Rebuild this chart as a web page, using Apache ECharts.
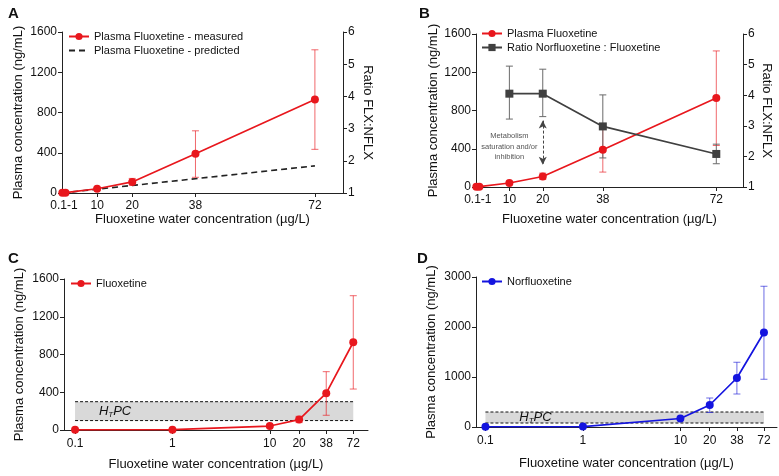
<!DOCTYPE html>
<html>
<head>
<meta charset="utf-8">
<script src="https://cdn.jsdelivr.net/npm/echarts@6/dist/echarts.min.js"></script>
<style>html,body{margin:0;padding:0;background:#fff}#c{width:779px;height:476px}</style>
</head>
<body>
<div id="c"></div>
<script>
// ---- data ----
const xConc = [0.1, 1, 10, 20, 38, 72];
const flxMeasured = [2, 3, 42, 110, 390, 930];
const flxLow = [null, null, 35, 78, 156, 434];
const flxHigh = [null, null, 50, 145, 618, 1423];
const flxPredicted = [0, 4, 38, 75, 142, 270];
const ratioX = [10, 20, 38, 72];
const ratioMean = [4.05, 4.05, 2.98, 2.08];
const ratioLow = [3.22, 3.3, 1.95, 1.76];
const ratioHigh = [4.95, 4.85, 4.01, 2.4];
const nflxMeasured = [5, 8, 170, 440, 980, 1890];
const nflxLow = [null, null, null, 290, 660, 955];
const nflxHigh = [null, null, null, 580, 1295, 2815];
const htpcFlx = [100, 300];
const htpcNflx = [80, 300];
const linTickValues = [10, 20, 38, 72];
const linLabelValues = [0.55, 10, 20, 38, 72];
const linLabelText = ['0.1-1', '10', '20', '38', '72'];
const logTickValues = [0.1, 1, 10, 20, 38, 72];
const yTicksFlx = [0, 400, 800, 1200, 1600];
const yTicksRatio = [1, 2, 3, 4, 5, 6];
const yTicksNflx = [0, 1000, 2000, 3000];
const arrowRatio = [3.17, 1.73];

// ---- helpers ----
const zip = (xs, ys) => xs.map((x, i) => [x, ys[i]]);
const errData = (xs, lo, hi) => xs.map((x, i) => [x, lo[i], hi[i]]).filter(d => d[1] != null);

const RED = '#e8171d', RED_ERR = 'rgba(232,23,29,0.65)';
const GRAY = '#404040', GRAY_ERR = '#6a6a6a';
const BLUE = '#1414df', BLUE_ERR = 'rgba(30,30,215,0.65)';
const FONT = '"Liberation Sans", Arial, sans-serif';
const AX = '#222';

function errSeries(xi, yi, data, color) {
  return {
    type: 'custom', xAxisIndex: xi, yAxisIndex: yi, data: data, z: 2,
    encode: { x: 0, y: [1, 2] },
    renderItem: function (params, api) {
      const x = api.value(0);
      const p1 = api.coord([x, api.value(1)]);
      const p2 = api.coord([x, api.value(2)]);
      const w = 3.5;
      const st = { stroke: color, lineWidth: 1 };
      return { type: 'group', children: [
        { type: 'line', shape: { x1: p1[0], y1: p1[1], x2: p2[0], y2: p2[1] }, style: st },
        { type: 'line', shape: { x1: p1[0] - w, y1: p1[1], x2: p1[0] + w, y2: p1[1] }, style: st },
        { type: 'line', shape: { x1: p2[0] - w, y1: p2[1], x2: p2[0] + w, y2: p2[1] }, style: st }
      ] };
    }
  };
}

function bandSeries(xi, yi, range, labelOffset) {
  return {
    type: 'custom', xAxisIndex: xi, yAxisIndex: yi, z: 0, silent: true,
    data: [[xConc[0], xConc[xConc.length - 1], range[0], range[1]]],
    encode: { x: [0, 1], y: [2, 3] },
    renderItem: function (params, api) {
      const a = api.coord([api.value(0), api.value(3)]);
      const b = api.coord([api.value(1), api.value(2)]);
      const ds = { stroke: '#111', lineWidth: 1, lineDash: [3, 2] };
      return { type: 'group', children: [
        { type: 'rect', shape: { x: a[0], y: a[1], width: b[0] - a[0], height: b[1] - a[1] }, style: { fill: '#d9d9d9' } },
        { type: 'line', shape: { x1: a[0], y1: a[1], x2: b[0], y2: a[1] }, style: ds },
        { type: 'line', shape: { x1: a[0], y1: b[1], x2: b[0], y2: b[1] }, style: ds },
        { type: 'text', x: a[0] + labelOffset, y: (a[1] + b[1]) / 2,
          style: { text: '{i|H}{s|T}{i|PC}', align: 'center', verticalAlign: 'middle', fill: '#111',
            rich: { i: { fontStyle: 'italic', fontSize: 13, fontFamily: FONT },
                    s: { fontStyle: 'italic', fontSize: 8, fontFamily: FONT, padding: [7, 0, 0, 0] } } } }
      ] };
    }
  };
}

function xLin(gi, gap) {
  return {
    gridIndex: gi, type: 'value', min: 0, max: 80,
    name: 'Fluoxetine water concentration (µg/L)', nameLocation: 'middle', nameGap: gap,
    nameTextStyle: { fontSize: 13, fontFamily: FONT, color: '#111' },
    axisLine: { lineStyle: { color: AX, width: 1 } },
    axisTick: { customValues: linTickValues, length: 4, lineStyle: { color: AX } },
    axisLabel: { customValues: linLabelValues, fontSize: 12, fontFamily: FONT, color: '#111', margin: 7,
      formatter: v => linLabelText[linLabelValues.indexOf(v)] },
    splitLine: { show: false }
  };
}
function xLog(gi, min, max, gap) {
  return {
    gridIndex: gi, type: 'log', logBase: 10, min: min, max: max,
    name: 'Fluoxetine water concentration (µg/L)', nameLocation: 'middle', nameGap: gap,
    nameTextStyle: { fontSize: 13, fontFamily: FONT, color: '#111' },
    axisLine: { lineStyle: { color: AX, width: 1 } },
    axisTick: { customValues: logTickValues, length: 4, lineStyle: { color: AX } },
    axisLabel: { customValues: logTickValues, fontSize: 12, fontFamily: FONT, color: '#111', margin: 8,
      formatter: v => String(v) },
    splitLine: { show: false }, minorTick: { show: false }, minorSplitLine: { show: false }
  };
}
function yAx(gi, ticks, pos, name, gap, rot) {
  return {
    gridIndex: gi, type: 'value', position: pos, min: ticks[0], max: ticks[ticks.length - 1],
    interval: ticks[1] - ticks[0],
    name: name, nameLocation: 'middle', nameGap: gap, nameRotate: rot,
    nameTextStyle: { fontSize: 13, fontFamily: FONT, color: '#111' },
    axisLine: { show: true, lineStyle: { color: AX, width: 1 } },
    axisTick: { show: true, length: 4, lineStyle: { color: AX } },
    axisLabel: { fontSize: 12, fontFamily: FONT, color: '#111', margin: 5, formatter: v => String(v) },
    splitLine: { show: false }
  };
}
function legend(left, top, names) {
  return {
    left: left, top: top, orient: 'vertical', itemWidth: 20, itemHeight: 9, itemGap: 3, padding: 0,
    textStyle: { fontSize: 11, fontFamily: FONT, color: '#111' },
    data: names
  };
}
function lineS(name, xi, yi, data, color, symbol, extra) {
  return Object.assign({
    name: name, type: 'line', xAxisIndex: xi, yAxisIndex: yi, data: data, z: 3,
    symbol: symbol, symbolSize: 8, showSymbol: true,
    lineStyle: { color: color, width: 1.7 }, itemStyle: { color: color }
  }, extra || {});
}

const option = {
  animation: false,
  backgroundColor: '#fff',
  textStyle: { fontFamily: FONT },
  title: [
    { text: 'A', left: 3, top: 1, textStyle: { fontSize: 15, fontWeight: 'bold', fontFamily: FONT, color: '#111' } },
    { text: 'B', left: 414, top: 1, textStyle: { fontSize: 15, fontWeight: 'bold', fontFamily: FONT, color: '#111' } },
    { text: 'C', left: 3, top: 246, textStyle: { fontSize: 15, fontWeight: 'bold', fontFamily: FONT, color: '#111' } },
    { text: 'D', left: 412, top: 246, textStyle: { fontSize: 15, fontWeight: 'bold', fontFamily: FONT, color: '#111' } }
  ],
  grid: [
    { left: 62, top: 32, width: 281, height: 161 },
    { left: 476, top: 34, width: 267, height: 153 },
    { left: 64, top: 279, width: 304, height: 151 },
    { left: 476, top: 277, width: 301, height: 150 }
  ],
  legend: [
    legend(68, 31, ['Plasma Fluoxetine - measured', { name: 'Plasma Fluoxetine - predicted', itemStyle: { opacity: 0 } }]),
    legend(481, 28, ['Plasma Fluoxetine', 'Ratio Norfluoxetine : Fluoxetine']),
    legend(70, 278, ['Fluoxetine']),
    legend(481, 276, ['Norfluoxetine'])
  ],
  xAxis: [
    xLin(0, 19),
    xLin(1, 26),
    xLog(2, 0.077, 102, 28),
    xLog(3, 0.08, 98, 30)
  ],
  yAxis: [
    yAx(0, yTicksFlx, 'left', 'Plasma concentration (ng/mL)', 37, 90),
    yAx(0, yTicksRatio, 'right', 'Ratio FLX:NFLX', 18, -90),
    yAx(1, yTicksFlx, 'left', 'Plasma concentration (ng/mL)', 36, 90),
    yAx(1, yTicksRatio, 'right', 'Ratio FLX:NFLX', 17, -90),
    yAx(2, yTicksFlx, 'left', 'Plasma concentration (ng/mL)', 38, 90),
    yAx(3, yTicksNflx, 'left', 'Plasma concentration (ng/mL)', 38, 90)
  ],
  series: [
    // A
    errSeries(0, 0, errData(xConc, flxLow, flxHigh), RED_ERR),
    lineS('Plasma Fluoxetine - predicted', 0, 0, zip(xConc, flxPredicted), '#222', 'none',
      { showSymbol: false, lineStyle: { color: '#222', width: 1.6, type: [6, 4] }, z: 2 }),
    lineS('Plasma Fluoxetine - measured', 0, 0, zip(xConc, flxMeasured), RED, 'circle'),
    // B
    errSeries(1, 2, errData(xConc, flxLow, flxHigh), RED_ERR),
    errSeries(1, 3, errData(ratioX, ratioLow, ratioHigh), GRAY_ERR),
    lineS('Plasma Fluoxetine', 1, 2, zip(xConc, flxMeasured), RED, 'circle'),
    lineS('Ratio Norfluoxetine : Fluoxetine', 1, 3, zip(ratioX, ratioMean), GRAY, 'rect', {
      markLine: {
        silent: true, symbol: ['arrow', 'arrow'], symbolSize: [6, 8],
        lineStyle: { color: '#444', width: 1, type: [3, 2] }, label: { show: false },
        data: [[{ coord: [ratioX[1], arrowRatio[0]] }, { coord: [ratioX[1], arrowRatio[1]] }]]
      },
      markPoint: {
        silent: true, symbol: 'circle', symbolSize: 1, itemStyle: { color: 'rgba(0,0,0,0)' },
        label: { show: true, position: 'inside', formatter: 'Metabolism\nsaturation and/or\ninhibition',
          fontSize: 7.5, lineHeight: 10.5, color: '#555', fontFamily: FONT },
        data: [{ coord: [ratioX[0], 2.32] }]
      }
    }),
    // C
    bandSeries(2, 4, htpcFlx, 40),
    errSeries(2, 4, errData(xConc, flxLow, flxHigh), RED_ERR),
    lineS('Fluoxetine', 2, 4, zip(xConc, flxMeasured), RED, 'circle'),
    // D
    bandSeries(3, 5, htpcNflx, 50),
    errSeries(3, 5, errData(xConc, nflxLow, nflxHigh), BLUE_ERR),
    lineS('Norfluoxetine', 3, 5, zip(xConc, nflxMeasured), BLUE, 'circle')
  ]
};
const chart = echarts.init(document.getElementById('c'), null, { renderer: 'canvas' });
chart.setOption(option);
</script>
</body>
</html>
